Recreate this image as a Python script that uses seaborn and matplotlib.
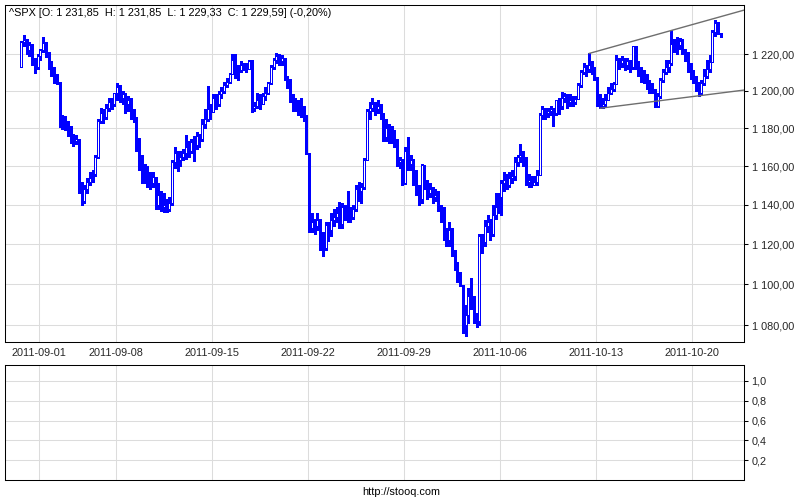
import numpy as np
import pandas as pd
import matplotlib
matplotlib.use("Agg")
import matplotlib.pyplot as plt
import seaborn as sns
from matplotlib.ticker import FixedLocator, NullLocator, FuncFormatter

# ---------------------- DATA (hourly bars, ^SPX) ----------------------

trading_days = [
    "2011-08-31", "2011-09-01", "2011-09-02", "2011-09-06", "2011-09-07", "2011-09-08",
    "2011-09-09", "2011-09-12", "2011-09-13", "2011-09-14", "2011-09-15", "2011-09-16",
    "2011-09-19", "2011-09-20", "2011-09-21", "2011-09-22", "2011-09-23", "2011-09-26",
    "2011-09-27", "2011-09-28", "2011-09-29", "2011-09-30", "2011-10-03", "2011-10-04",
    "2011-10-05", "2011-10-06", "2011-10-07", "2011-10-10", "2011-10-11", "2011-10-12",
    "2011-10-13", "2011-10-14", "2011-10-17", "2011-10-18", "2011-10-19", "2011-10-20",
    "2011-10-21",
]

first_open = 1213.0

closes = [
    [1226.5, 1227.5, 1222, 1225, 1216, 1213, 1218.9],
    [1222, 1226, 1220, 1215, 1212, 1208, 1204.4],
    [1182, 1183, 1181.5, 1180, 1176, 1173, 1174],
    [1149, 1142, 1148, 1152, 1154, 1156, 1165],
    [1184, 1188, 1186, 1191, 1194, 1193, 1198.6],
    [1202, 1196, 1198, 1193, 1195, 1188, 1185.9],
    [1170, 1163, 1158, 1156, 1155, 1151, 1154.2],
    [1140, 1145, 1139, 1140, 1138, 1141, 1162],
    [1167, 1163, 1165, 1167, 1170, 1168, 1172.9],
    [1171, 1176, 1174, 1182, 1185, 1190, 1188.7],
    [1196, 1193, 1198, 1200, 1203, 1205, 1209.1],
    [1217, 1213, 1211, 1214, 1213, 1212, 1216],
    [1191, 1192, 1195, 1193, 1197, 1199, 1204],
    [1213, 1217, 1219, 1216, 1218, 1207, 1202.1],
    [1196, 1192, 1194, 1190, 1191, 1186, 1166.8],
    [1128, 1131, 1129, 1132, 1119, 1118, 1129.6],
    [1127, 1132, 1134, 1136, 1130, 1139, 1136.4],
    [1137, 1134, 1138, 1148, 1147, 1149, 1163],
    [1189, 1191, 1193, 1190, 1192, 1186, 1175.4],
    [1180, 1176, 1178, 1172, 1162, 1163, 1151],
    [1168, 1161, 1163, 1152, 1147, 1143, 1160.4],
    [1151, 1146, 1148, 1144, 1145, 1139, 1131.4],
    [1125, 1122, 1127, 1116, 1109, 1105, 1099.2],
    [1080, 1085, 1094, 1092, 1083, 1082, 1124],
    [1121, 1129, 1131, 1125, 1135, 1139, 1144],
    [1151, 1153, 1150, 1154, 1155, 1162, 1165],
    [1166, 1164, 1152, 1153, 1150, 1152, 1155.5],
    [1187, 1190, 1188, 1189, 1190, 1188, 1194.9],
    [1192, 1196, 1197, 1194, 1195, 1194, 1195.5],
    [1203, 1210, 1213, 1212, 1214, 1212, 1207.3],
    [1196, 1192, 1193, 1195, 1199, 1201, 1203.7],
    [1217, 1215, 1217, 1214, 1216, 1213, 1224.6],
    [1214, 1212, 1209, 1207, 1205, 1201, 1200.9],
    [1192, 1197, 1206, 1210, 1213, 1215, 1225.4],
    [1226, 1225, 1227, 1222, 1219, 1214, 1209.9],
    [1206, 1203, 1199, 1204, 1208, 1212, 1215.4],
    [1232, 1237, 1231.85, 1229.59],
]

highs = [
    [1227, 1230.5, 1228.5, 1226.5, 1225.5, 1218, 1220],
    [1223, 1229.3, 1226.5, 1221, 1216, 1213, 1209],
    [1204.5, 1187, 1186.5, 1184, 1181, 1177, 1176.5],
    [1174.5, 1152, 1150, 1154, 1157, 1158, 1166],
    [1185, 1191, 1190, 1193, 1196, 1196, 1198.7],
    [1204.4, 1203, 1200, 1199, 1197, 1196, 1190],
    [1186, 1175, 1166, 1161, 1160, 1157, 1157],
    [1154.5, 1151, 1147, 1146, 1143, 1144, 1163],
    [1170, 1168, 1168, 1169, 1176.4, 1173, 1174],
    [1176, 1178, 1177, 1185, 1190, 1202.4, 1193],
    [1198, 1198, 1200, 1202, 1205, 1207, 1209.5],
    [1220, 1220, 1214, 1216, 1215, 1215, 1217],
    [1216.5, 1194, 1199, 1198, 1199, 1202, 1205],
    [1214, 1218, 1220.4, 1220, 1219.5, 1218, 1208],
    [1206.3, 1198, 1196, 1195, 1196, 1192, 1187],
    [1167, 1136, 1133, 1136, 1133, 1126, 1131],
    [1131, 1136, 1138, 1139, 1141.7, 1141, 1140],
    [1147, 1139, 1140, 1150, 1152, 1151, 1164.2],
    [1190, 1194, 1195.9, 1194, 1195, 1193, 1188],
    [1184.7, 1182, 1181, 1179, 1174, 1165, 1164],
    [1170, 1175.3, 1166, 1164, 1158, 1150, 1161],
    [1160.5, 1153, 1151, 1149, 1148, 1147, 1140],
    [1139, 1128, 1131, 1128, 1117, 1111, 1106],
    [1099.5, 1090, 1098, 1103, 1094, 1086, 1125.1],
    [1125, 1132, 1135, 1133, 1140, 1146, 1146],
    [1153, 1157, 1156, 1157, 1158, 1165, 1166],
    [1171.4, 1168, 1165, 1156, 1155, 1155, 1158],
    [1188, 1192, 1191, 1191, 1192, 1191, 1195],
    [1196, 1199.2, 1199, 1198, 1198, 1197, 1197],
    [1204, 1211, 1215, 1214, 1220.3, 1216, 1213],
    [1207.5, 1198, 1196, 1198, 1202, 1204, 1205],
    [1219.5, 1218, 1219, 1218, 1218, 1217, 1224.6],
    [1224.6, 1216, 1213, 1211, 1209, 1206, 1204],
    [1201, 1199, 1207, 1212, 1217, 1217, 1233],
    [1228, 1229.6, 1229, 1228, 1223, 1221, 1215],
    [1211, 1208, 1205, 1206, 1212, 1217, 1219.5],
    [1233, 1239, 1237.5, 1231.85],
]

lows = [
    [1213, 1224.5, 1220, 1219, 1214, 1209.4, 1212],
    [1217, 1221, 1218.5, 1212, 1208, 1204, 1203.9],
    [1180.5, 1179.5, 1179, 1176, 1172, 1170.6, 1171.5],
    [1146, 1140.1, 1141, 1146, 1150, 1152, 1155],
    [1164.5, 1183, 1183, 1185, 1189, 1190, 1192],
    [1195, 1194, 1193, 1188, 1189, 1185, 1183.3],
    [1168, 1158, 1151, 1151, 1149, 1148.4, 1149],
    [1138, 1138, 1137, 1136.1, 1136.5, 1137, 1140],
    [1159, 1157.4, 1160, 1163, 1164, 1165, 1167],
    [1162.7, 1169, 1170, 1173, 1180, 1184, 1185],
    [1188.5, 1190, 1192, 1196, 1199, 1202, 1204],
    [1209, 1207, 1206, 1210, 1211, 1210, 1212],
    [1188.4, 1189, 1191, 1190, 1193, 1195, 1198],
    [1203.5, 1212, 1215, 1214, 1214, 1206, 1201.3],
    [1194, 1189, 1189, 1187, 1186, 1184, 1166.2],
    [1126, 1126, 1125, 1127, 1117, 1114.2, 1117],
    [1121.4, 1124, 1129, 1131, 1128, 1128, 1132],
    [1131.1, 1131, 1133, 1137, 1142, 1141, 1148],
    [1163, 1185, 1189, 1187, 1188, 1185, 1173],
    [1173, 1172, 1172, 1170, 1160, 1159, 1150.4],
    [1150.5, 1158, 1158, 1150, 1145, 1139.9, 1141],
    [1148, 1143, 1144, 1141, 1142, 1137, 1131.3],
    [1122, 1119, 1119, 1114, 1107, 1101, 1098.9],
    [1076, 1074.8, 1081, 1088, 1081, 1079, 1080],
    [1115.7, 1119, 1126, 1122, 1124, 1133, 1136],
    [1135, 1147, 1148, 1149, 1151, 1153, 1160],
    [1162, 1160, 1150.3, 1149, 1149, 1150, 1150],
    [1155.5, 1185, 1185, 1186, 1187, 1181, 1187],
    [1187.3, 1190, 1194, 1191, 1192, 1192, 1193],
    [1195.5, 1202, 1209, 1208, 1210, 1209, 1206],
    [1192, 1190.6, 1191, 1192, 1195, 1198, 1200],
    [1203.5, 1212, 1213, 1211, 1212, 1210, 1212],
    [1212, 1208, 1205, 1204, 1201, 1199, 1198.6],
    [1191.5, 1191.5, 1196, 1205, 1209, 1210, 1214],
    [1221, 1220, 1223, 1220, 1216, 1210, 1206.3],
    [1204, 1200, 1197.3, 1198, 1203, 1207, 1210],
    [1215.4, 1230, 1231, 1229.33],
]

tick_dates = ["2011-09-01", "2011-09-08", "2011-09-15", "2011-09-22",
              "2011-09-29", "2011-10-06", "2011-10-13", "2011-10-20"]
price_ticks = [1080, 1100, 1120, 1140, 1160, 1180, 1200, 1220]
lower_ticks = [0.2, 0.4, 0.6, 0.8, 1.0]

# trend channel anchors (day, which extreme)
upper_anchors = ["2011-10-12", "2011-10-18"]
lower_anchors = ["2011-10-13", "2011-10-20"]

title = "^SPX [O: 1 231,85  H: 1 231,85  L: 1 229,33  C: 1 229,59] (-0,20%)"

# ---------------------- PREP ----------------------

BARS_PER_DAY = 7
rows = []
prev = first_open
for d, day in enumerate(trading_days):
    for k in range(len(closes[d])):
        c = closes[d][k]
        rows.append([day, d * BARS_PER_DAY + k, prev, highs[d][k], lows[d][k], c])
        prev = c
df = pd.DataFrame(rows, columns=["Day", "Pos", "Open", "High", "Low", "Close"])
df["High"] = df[["High", "Open", "Close"]].max(axis=1)
df["Low"] = df[["Low", "Open", "Close"]].min(axis=1)
df["Up"] = df["Close"] >= df["Open"]

XMIN, XMAX = -5.9, 263.5


def channel_line(days, col, pick):
    pts = []
    for day in days:
        sub = df[df["Day"] == day]
        r = sub.loc[sub[col].idxmax()] if pick == "max" else sub.loc[sub[col].idxmin()]
        pts.append((float(r["Pos"]), np.log(float(r[col]))))
    (x0, y0), (x1, y1) = pts
    slope = (y1 - y0) / (x1 - x0)
    return pd.DataFrame({"x": [x0, XMAX], "y": [np.exp(y0), np.exp(y0 + slope * (XMAX - x0))]})


up_line = channel_line(upper_anchors, "High", "max")
lo_line = channel_line(lower_anchors, "Low", "min")

# ---------------------- PLOT ----------------------

sns.set_style("white")
plt.rcParams["font.family"] = ["Liberation Sans", "DejaVu Sans"]
plt.rcParams["font.size"] = 7.8

BLUE = "#0000ff"
GRID = "#dcdcdc"

fig = plt.figure(figsize=(8, 5), dpi=100)
fig.patch.set_facecolor("white")
ax = fig.add_axes([5 / 800, 1 - 342 / 500, 739 / 800, 337 / 500])
ax2 = fig.add_axes([5 / 800, 20 / 500, 739 / 800, 115 / 500])

tick_pos = [trading_days.index(t) * BARS_PER_DAY - 0.5 for t in tick_dates]

# wicks then bodies
ax.vlines(df["Pos"], df["Low"], df["High"], color=BLUE, linewidth=0.75,
          antialiased=False, zorder=2)
body_lo = df[["Open", "Close"]].min(axis=1)
body_h = np.maximum((df["Close"] - df["Open"]).abs(), 0.3)
bars = ax.bar(df["Pos"], body_h, bottom=body_lo, width=0.72,
              color=np.where(df["Up"], "white", BLUE), edgecolor=BLUE, linewidth=0.7, zorder=3)
for b in bars:
    b.set_antialiased(False)

sns.lineplot(data=up_line, x="x", y="y", ax=ax, color="#6e6e6e", linewidth=1.0, zorder=4)
sns.lineplot(data=lo_line, x="x", y="y", ax=ax, color="#6e6e6e", linewidth=1.0, zorder=4)

ax.set_yscale("log")
ax.set_ylim(1071.8, 1247.2)
ax.set_xlim(XMIN, XMAX)
ax.yaxis.set_major_locator(FixedLocator(price_ticks))
ax.yaxis.set_minor_locator(NullLocator())
ax.yaxis.set_major_formatter(FuncFormatter(
    lambda v, p: f"{v:,.2f}".replace(",", " ").replace(".", ",")))
ax.xaxis.set_major_locator(FixedLocator(tick_pos))
ax.set_xticklabels(tick_dates)
ax.set_xlabel("")
ax.set_ylabel("")

ax2.set_xlim(XMIN, XMAX)
ax2.set_ylim(0, 1.16)
ax2.yaxis.set_major_locator(FixedLocator(lower_ticks))
ax2.yaxis.set_major_formatter(FuncFormatter(lambda v, p: f"{v:.1f}".replace(".", ",")))
ax2.xaxis.set_major_locator(FixedLocator(tick_pos))
ax2.set_xticklabels([])

for a in (ax, ax2):
    a.set_facecolor("white")
    a.grid(True, color=GRID, linewidth=0.75)
    a.set_axisbelow(True)
    a.yaxis.tick_right()
    a.tick_params(axis="y", which="both", direction="out", length=3, width=0.75,
                  color="black", pad=2.5, labelsize=7.8, left=False, right=True)
    for s in a.spines.values():
        s.set_color("black")
        s.set_linewidth(0.75)

ax.tick_params(axis="x", direction="out", length=2.2, width=0.75, color="black",
               pad=2, labelsize=7.8)
ax2.tick_params(axis="x", length=0)

ax.text(4 / 739, 1 - 8 / 337, title, transform=ax.transAxes, ha="left", va="center",
        fontsize=7.8, color="black", zorder=5)
fig.text(401 / 800, 1 - 492 / 500, "http://stooq.com", ha="center", va="center",
         fontsize=7.8, color="black")

fig.savefig("out.png", dpi=100)
